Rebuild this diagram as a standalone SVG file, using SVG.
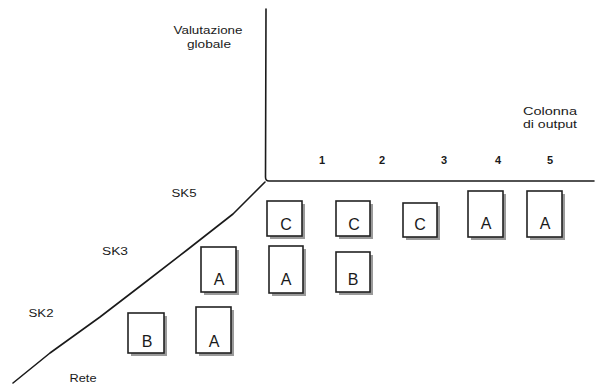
<svg xmlns="http://www.w3.org/2000/svg" width="596" height="385" viewBox="0 0 596 385">
  <style>
    .axis { fill: none; stroke: #1a1a1a; stroke-width: 1.6; stroke-linejoin: round; stroke-linecap: round; }
    .lbl { font-family: "Liberation Sans", Arial, sans-serif; font-size: 10px; fill: #1a1a1a; text-anchor: middle; }
    .num { font-family: "Liberation Sans", Arial, sans-serif; font-size: 11px; font-weight: bold; fill: #1a1a1a; text-anchor: middle; }
    .shadow { fill: #9a9a9a; }
    .box { fill: #ffffff; stroke: #222222; stroke-width: 1.6; }
    .letter { font-family: "Liberation Sans", Arial, sans-serif; font-size: 16px; fill: #1a1a1a; text-anchor: middle; }
  </style>

  <rect width="596" height="385" fill="#ffffff"/>

  <!-- axes: vertical, horizontal and the receding diagonal -->
  <g id="connectors">
    <path class="axis" d="M266,9 L265.5,177 Q265.5,181 269,181 L594,181"/>
    <polyline class="axis" points="265,182 255,192 233,214 187,250 143,284 100,317 50,353 13,383"/>
  </g>

  <!-- axis titles -->
  <g id="title-valutazione">
    <text class="lbl" x="208" y="34" textLength="69" lengthAdjust="spacingAndGlyphs">Valutazione</text>
    <text class="lbl" x="209" y="48" textLength="44" lengthAdjust="spacingAndGlyphs">globale</text>
  </g>
  <g id="title-colonna">
    <text class="lbl" x="550" y="115" textLength="54" lengthAdjust="spacingAndGlyphs">Colonna</text>
    <text class="lbl" x="550" y="128" textLength="54" lengthAdjust="spacingAndGlyphs">di output</text>
  </g>
  <g id="title-rete">
    <text class="lbl" x="83" y="382" textLength="27" lengthAdjust="spacingAndGlyphs">Rete</text>
  </g>

  <!-- column numbers -->
  <g id="columns">
    <text class="num" x="322" y="164">1</text>
    <text class="num" x="382" y="164">2</text>
    <text class="num" x="444" y="164">3</text>
    <text class="num" x="498" y="164">4</text>
    <text class="num" x="550" y="164">5</text>
  </g>

  <!-- row labels -->
  <g id="rows">
    <text class="lbl" x="184" y="197" textLength="25" lengthAdjust="spacingAndGlyphs">SK5</text>
    <text class="lbl" x="115" y="255" textLength="26" lengthAdjust="spacingAndGlyphs">SK3</text>
    <text class="lbl" x="41" y="317" textLength="25" lengthAdjust="spacingAndGlyphs">SK2</text>
  </g>

  <!-- row SK5 -->
  <g id="c1">
    <rect class="shadow" x="270" y="204" width="35" height="35"/>
    <rect class="box" x="267" y="201" width="35" height="35"/>
    <text class="letter" x="286" y="230">C</text>
  </g>
  <g id="c2">
    <rect class="shadow" x="339" y="204" width="34" height="35"/>
    <rect class="box" x="336" y="201" width="34" height="35"/>
    <text class="letter" x="354" y="230">C</text>
  </g>
  <g id="c3">
    <rect class="shadow" x="406" y="206" width="34" height="34"/>
    <rect class="box" x="403" y="203" width="34" height="34"/>
    <text class="letter" x="420" y="230">C</text>
  </g>
  <g id="c4">
    <rect class="shadow" x="471" y="194" width="35" height="46"/>
    <rect class="box" x="468" y="191" width="35" height="46"/>
    <text class="letter" x="486" y="229">A</text>
  </g>
  <g id="c5">
    <rect class="shadow" x="530" y="194" width="35" height="46"/>
    <rect class="box" x="527" y="191" width="35" height="46"/>
    <text class="letter" x="545" y="229">A</text>
  </g>

  <!-- row SK3 -->
  <g id="b1">
    <rect class="shadow" x="204" y="250" width="35" height="45"/>
    <rect class="box" x="201" y="247" width="35" height="45"/>
    <text class="letter" x="219" y="285">A</text>
  </g>
  <g id="b2">
    <rect class="shadow" x="272" y="249" width="34" height="47"/>
    <rect class="box" x="269" y="246" width="34" height="47"/>
    <text class="letter" x="286" y="285">A</text>
  </g>
  <g id="b3">
    <rect class="shadow" x="339" y="255" width="34" height="40"/>
    <rect class="box" x="336" y="252" width="34" height="40"/>
    <text class="letter" x="353" y="285">B</text>
  </g>

  <!-- row SK2 -->
  <g id="a1">
    <rect class="shadow" x="131" y="316" width="36" height="40"/>
    <rect class="box" x="128" y="313" width="36" height="40"/>
    <text class="letter" x="147" y="347">B</text>
  </g>
  <g id="a2">
    <rect class="shadow" x="199" y="310" width="35" height="46"/>
    <rect class="box" x="196" y="307" width="35" height="46"/>
    <text class="letter" x="214" y="347">A</text>
  </g>
</svg>
